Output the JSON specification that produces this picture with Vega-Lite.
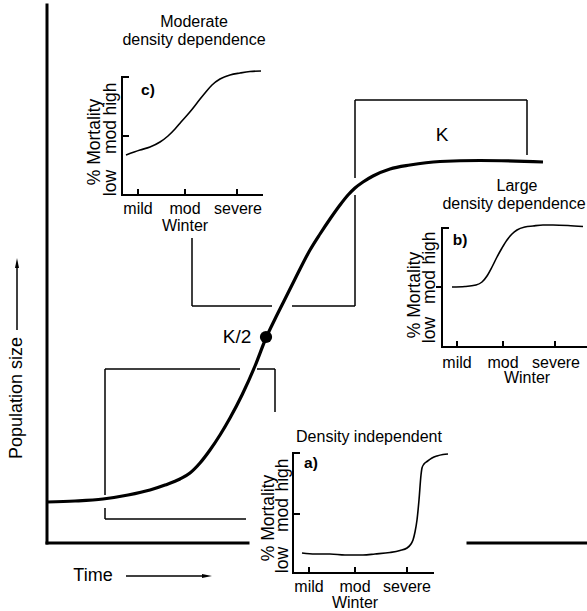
{
  "$schema": "https://vega.github.io/schema/vega-lite/v6.json",
  "width": 587,
  "height": 611,
  "padding": 0,
  "autosize": {"type": "none"},
  "background": "white",
  "config": {"view": {"stroke": null}, "text": {"font": "Liberation Sans", "color": "black"}},
  "datasets": {
    "main": [
      {"x": 47, "y": 502}, {"x": 75, "y": 501}, {"x": 103, "y": 499}, {"x": 128, "y": 495}, {"x": 150, "y": 490},
      {"x": 165, "y": 485}, {"x": 180, "y": 479}, {"x": 190, "y": 473}, {"x": 200, "y": 463}, {"x": 210, "y": 450},
      {"x": 220, "y": 435}, {"x": 230, "y": 418}, {"x": 242, "y": 395}, {"x": 255, "y": 366}, {"x": 266, "y": 338},
      {"x": 275, "y": 319}, {"x": 283, "y": 303}, {"x": 295, "y": 279}, {"x": 310, "y": 250}, {"x": 320, "y": 234},
      {"x": 330, "y": 219}, {"x": 340, "y": 205}, {"x": 348, "y": 195}, {"x": 355, "y": 188}, {"x": 363, "y": 182},
      {"x": 373, "y": 176}, {"x": 390, "y": 169}, {"x": 410, "y": 165}, {"x": 440, "y": 161.5}, {"x": 480, "y": 160.5},
      {"x": 543, "y": 162}
    ],
    "insets": [
      {"panel": "c", "x": 126, "y": 155}, {"panel": "c", "x": 140, "y": 150}, {"panel": "c", "x": 150, "y": 147},
      {"panel": "c", "x": 160, "y": 142}, {"panel": "c", "x": 168, "y": 136}, {"panel": "c", "x": 175, "y": 129},
      {"panel": "c", "x": 181, "y": 122}, {"panel": "c", "x": 189, "y": 113}, {"panel": "c", "x": 197, "y": 103},
      {"panel": "c", "x": 205, "y": 93}, {"panel": "c", "x": 212, "y": 85}, {"panel": "c", "x": 220, "y": 79},
      {"panel": "c", "x": 230, "y": 75}, {"panel": "c", "x": 240, "y": 73}, {"panel": "c", "x": 250, "y": 71.5},
      {"panel": "c", "x": 261, "y": 71},
      {"panel": "b", "x": 452, "y": 287}, {"panel": "b", "x": 465, "y": 286.5}, {"panel": "b", "x": 476, "y": 285},
      {"panel": "b", "x": 482, "y": 282}, {"panel": "b", "x": 487, "y": 276}, {"panel": "b", "x": 492, "y": 267},
      {"panel": "b", "x": 497, "y": 257}, {"panel": "b", "x": 502, "y": 248}, {"panel": "b", "x": 507, "y": 240},
      {"panel": "b", "x": 512, "y": 234}, {"panel": "b", "x": 517, "y": 230}, {"panel": "b", "x": 525, "y": 227},
      {"panel": "b", "x": 533, "y": 226}, {"panel": "b", "x": 543, "y": 225}, {"panel": "b", "x": 553, "y": 225},
      {"panel": "b", "x": 568, "y": 225.5}, {"panel": "b", "x": 583, "y": 226.5},
      {"panel": "a", "x": 302, "y": 553}, {"panel": "a", "x": 315, "y": 554}, {"panel": "a", "x": 330, "y": 554},
      {"panel": "a", "x": 345, "y": 555}, {"panel": "a", "x": 363, "y": 555}, {"panel": "a", "x": 375, "y": 554},
      {"panel": "a", "x": 390, "y": 552.5}, {"panel": "a", "x": 400, "y": 550.5}, {"panel": "a", "x": 407, "y": 548},
      {"panel": "a", "x": 411, "y": 544}, {"panel": "a", "x": 413, "y": 540}, {"panel": "a", "x": 415, "y": 532},
      {"panel": "a", "x": 417, "y": 520}, {"panel": "a", "x": 419, "y": 500}, {"panel": "a", "x": 421, "y": 475},
      {"panel": "a", "x": 422, "y": 468}, {"panel": "a", "x": 424, "y": 464}, {"panel": "a", "x": 427, "y": 461.5},
      {"panel": "a", "x": 432, "y": 458}, {"panel": "a", "x": 437, "y": 456}, {"panel": "a", "x": 443, "y": 454.5},
      {"panel": "a", "x": 448, "y": 454}
    ],
    "segs": [
      {"kind": "axis", "x": 47, "y": 5, "x2": 47, "y2": 543},
      {"kind": "axis", "x": 47, "y": 543, "x2": 248, "y2": 543},
      {"kind": "axis", "x": 468, "y": 543, "x2": 587, "y2": 543},
      {"kind": "bracket", "x": 105, "y": 369, "x2": 240, "y2": 369},
      {"kind": "bracket", "x": 257, "y": 369, "x2": 275, "y2": 369},
      {"kind": "bracket", "x": 275, "y": 369, "x2": 275, "y2": 412},
      {"kind": "bracket", "x": 105, "y": 369, "x2": 105, "y2": 495},
      {"kind": "bracket", "x": 105, "y": 508, "x2": 105, "y2": 519},
      {"kind": "bracket", "x": 105, "y": 519, "x2": 246, "y2": 519},
      {"kind": "bracket", "x": 192, "y": 238, "x2": 192, "y2": 306},
      {"kind": "bracket", "x": 192, "y": 306, "x2": 272, "y2": 306},
      {"kind": "bracket", "x": 292, "y": 306, "x2": 355, "y2": 306},
      {"kind": "bracket", "x": 355, "y": 306, "x2": 355, "y2": 195},
      {"kind": "bracket", "x": 355, "y": 178, "x2": 355, "y2": 100},
      {"kind": "bracket", "x": 355, "y": 100, "x2": 527, "y2": 100},
      {"kind": "bracket", "x": 527, "y": 100, "x2": 527, "y2": 155},
      {"kind": "inset", "x": 122, "y": 77, "x2": 122, "y2": 195},
      {"kind": "inset", "x": 122, "y": 195, "x2": 262, "y2": 195},
      {"kind": "inset", "x": 122, "y": 77, "x2": 128, "y2": 77},
      {"kind": "inset", "x": 122, "y": 136, "x2": 128, "y2": 136},
      {"kind": "inset", "x": 138, "y": 195, "x2": 138, "y2": 190},
      {"kind": "inset", "x": 185, "y": 195, "x2": 185, "y2": 190},
      {"kind": "inset", "x": 237, "y": 195, "x2": 237, "y2": 190},
      {"kind": "inset", "x": 442, "y": 228, "x2": 442, "y2": 347},
      {"kind": "inset", "x": 442, "y": 347, "x2": 587, "y2": 347},
      {"kind": "inset", "x": 442, "y": 228, "x2": 448, "y2": 228},
      {"kind": "inset", "x": 437, "y": 287, "x2": 442, "y2": 287},
      {"kind": "inset", "x": 457, "y": 347, "x2": 457, "y2": 342},
      {"kind": "inset", "x": 503, "y": 347, "x2": 503, "y2": 342},
      {"kind": "inset", "x": 555, "y": 347, "x2": 555, "y2": 342},
      {"kind": "inset", "x": 293, "y": 453, "x2": 293, "y2": 573},
      {"kind": "inset", "x": 293, "y": 573, "x2": 433, "y2": 573},
      {"kind": "inset", "x": 293, "y": 453, "x2": 299, "y2": 453},
      {"kind": "inset", "x": 293, "y": 514, "x2": 299, "y2": 514},
      {"kind": "inset", "x": 309, "y": 573, "x2": 309, "y2": 568},
      {"kind": "inset", "x": 355, "y": 573, "x2": 355, "y2": 568},
      {"kind": "inset", "x": 407, "y": 573, "x2": 407, "y2": 568},
      {"kind": "arrow", "x": 17, "y": 330, "x2": 17, "y2": 266},
      {"kind": "arrow", "x": 126, "y": 576, "x2": 204, "y2": 576}
    ],
    "heads": [
      {"dir": "up", "x": 17, "y": 263},
      {"dir": "right", "x": 207, "y": 576}
    ],
    "dot": [{"x": 266, "y": 337}],
    "labels": [
      {"style": "big", "text": "K", "x": 442, "y": 135},
      {"style": "big", "text": "K/2", "x": 237, "y": 337},
      {"style": "axis", "text": "Time", "x": 93, "y": 576},
      {"style": "axisv", "text": "Population size", "x": 17, "y": 398},
      {"style": "title", "text": "Moderate", "x": 194, "y": 22},
      {"style": "title", "text": "density dependence", "x": 194, "y": 40},
      {"style": "title", "text": "Large", "x": 517, "y": 186},
      {"style": "title", "text": "density dependence", "x": 514, "y": 204},
      {"style": "title", "text": "Density independent", "x": 369, "y": 437},
      {"style": "panel", "text": "c)", "x": 148, "y": 90},
      {"style": "panel", "text": "b)", "x": 460, "y": 240},
      {"style": "panel", "text": "a)", "x": 311, "y": 463},
      {"style": "tick", "text": "mild", "x": 138, "y": 209},
      {"style": "tick", "text": "mod", "x": 185, "y": 209},
      {"style": "tick", "text": "severe", "x": 238, "y": 209},
      {"style": "tick", "text": "Winter", "x": 185, "y": 226},
      {"style": "tick", "text": "mild", "x": 457, "y": 363},
      {"style": "tick", "text": "mod", "x": 503, "y": 363},
      {"style": "tick", "text": "severe", "x": 556, "y": 363},
      {"style": "tick", "text": "Winter", "x": 527, "y": 378},
      {"style": "tick", "text": "mild", "x": 309, "y": 587},
      {"style": "tick", "text": "mod", "x": 355, "y": 587},
      {"style": "tick", "text": "severe", "x": 407, "y": 587},
      {"style": "tick", "text": "Winter", "x": 355, "y": 603},
      {"style": "ylab", "text": "% Mortality", "x": 95, "y": 142},
      {"style": "ylab", "text": "low", "x": 111, "y": 183},
      {"style": "ylab", "text": "mod", "x": 111, "y": 137},
      {"style": "ylab", "text": "high", "x": 111, "y": 99},
      {"style": "ylab", "text": "% Mortality", "x": 415, "y": 295},
      {"style": "ylab", "text": "low", "x": 430, "y": 330},
      {"style": "ylab", "text": "mod", "x": 430, "y": 287},
      {"style": "ylab", "text": "high", "x": 430, "y": 248},
      {"style": "ylab", "text": "% Mortality", "x": 269, "y": 518},
      {"style": "ylab", "text": "low", "x": 283, "y": 560},
      {"style": "ylab", "text": "mod", "x": 283, "y": 515},
      {"style": "ylab", "text": "high", "x": 283, "y": 475}
    ]
  },
  "layer": [
    {
      "data": {"name": "segs"},
      "transform": [{"filter": "datum.kind === 'axis'"}],
      "mark": {"type": "rule", "strokeWidth": 3, "strokeCap": "square", "color": "black"},
      "encoding": {
        "x": {"field": "x", "type": "quantitative", "scale": {"domain": [0, 587], "nice": false, "zero": false}, "axis": null},
        "y": {"field": "y", "type": "quantitative", "scale": {"domain": [0, 611], "nice": false, "zero": false, "reverse": true}, "axis": null},
        "x2": {"field": "x2"},
        "y2": {"field": "y2"}
      }
    },
    {
      "data": {"name": "segs"},
      "transform": [{"filter": "datum.kind === 'bracket' || datum.kind === 'arrow'"}],
      "mark": {"type": "rule", "strokeWidth": 1.5, "color": "black"},
      "encoding": {
        "x": {"field": "x", "type": "quantitative"},
        "y": {"field": "y", "type": "quantitative"},
        "x2": {"field": "x2"},
        "y2": {"field": "y2"}
      }
    },
    {
      "data": {"name": "segs"},
      "transform": [{"filter": "datum.kind === 'inset'"}],
      "mark": {"type": "rule", "strokeWidth": 2, "strokeCap": "square", "color": "black"},
      "encoding": {
        "x": {"field": "x", "type": "quantitative"},
        "y": {"field": "y", "type": "quantitative"},
        "x2": {"field": "x2"},
        "y2": {"field": "y2"}
      }
    },
    {
      "data": {"name": "main"},
      "mark": {"type": "line", "strokeWidth": 3.2, "color": "black", "interpolate": "monotone"},
      "encoding": {
        "x": {"field": "x", "type": "quantitative"},
        "y": {"field": "y", "type": "quantitative"}
      }
    },
    {
      "data": {"name": "insets"},
      "mark": {"type": "line", "strokeWidth": 1.6, "color": "black", "interpolate": "monotone"},
      "encoding": {
        "x": {"field": "x", "type": "quantitative"},
        "y": {"field": "y", "type": "quantitative"},
        "detail": {"field": "panel"}
      }
    },
    {
      "data": {"name": "dot"},
      "mark": {"type": "point", "filled": true, "shape": "circle", "size": 150, "color": "black", "opacity": 1},
      "encoding": {
        "x": {"field": "x", "type": "quantitative"},
        "y": {"field": "y", "type": "quantitative"}
      }
    },
    {
      "data": {"name": "heads"},
      "transform": [{"filter": "datum.dir === 'up'"}],
      "mark": {"type": "point", "filled": true, "shape": "M-0.4,1L0,-1L0.4,1Z", "size": 100, "color": "black", "opacity": 1},
      "encoding": {
        "x": {"field": "x", "type": "quantitative"},
        "y": {"field": "y", "type": "quantitative"}
      }
    },
    {
      "data": {"name": "heads"},
      "transform": [{"filter": "datum.dir === 'right'"}],
      "mark": {"type": "point", "filled": true, "shape": "M-1,-0.4L1,0L-1,0.4Z", "size": 100, "color": "black", "opacity": 1},
      "encoding": {
        "x": {"field": "x", "type": "quantitative"},
        "y": {"field": "y", "type": "quantitative"}
      }
    },
    {
      "data": {"name": "labels"},
      "transform": [{"filter": "datum.style === 'big'"}],
      "mark": {"type": "text", "fontSize": 19, "align": "center", "baseline": "middle"},
      "encoding": {
        "x": {"field": "x", "type": "quantitative"},
        "y": {"field": "y", "type": "quantitative"},
        "text": {"field": "text"}
      }
    },
    {
      "data": {"name": "labels"},
      "transform": [{"filter": "datum.style === 'axis'"}],
      "mark": {"type": "text", "fontSize": 18, "align": "center", "baseline": "middle"},
      "encoding": {
        "x": {"field": "x", "type": "quantitative"},
        "y": {"field": "y", "type": "quantitative"},
        "text": {"field": "text"}
      }
    },
    {
      "data": {"name": "labels"},
      "transform": [{"filter": "datum.style === 'axisv'"}],
      "mark": {"type": "text", "fontSize": 18, "angle": 270, "align": "center", "baseline": "middle"},
      "encoding": {
        "x": {"field": "x", "type": "quantitative"},
        "y": {"field": "y", "type": "quantitative"},
        "text": {"field": "text"}
      }
    },
    {
      "data": {"name": "labels"},
      "transform": [{"filter": "datum.style === 'title'"}],
      "mark": {"type": "text", "fontSize": 16, "align": "center", "baseline": "middle"},
      "encoding": {
        "x": {"field": "x", "type": "quantitative"},
        "y": {"field": "y", "type": "quantitative"},
        "text": {"field": "text"}
      }
    },
    {
      "data": {"name": "labels"},
      "transform": [{"filter": "datum.style === 'panel'"}],
      "mark": {"type": "text", "fontSize": 15.5, "fontWeight": "bold", "align": "center", "baseline": "middle"},
      "encoding": {
        "x": {"field": "x", "type": "quantitative"},
        "y": {"field": "y", "type": "quantitative"},
        "text": {"field": "text"}
      }
    },
    {
      "data": {"name": "labels"},
      "transform": [{"filter": "datum.style === 'tick'"}],
      "mark": {"type": "text", "fontSize": 16, "align": "center", "baseline": "middle"},
      "encoding": {
        "x": {"field": "x", "type": "quantitative"},
        "y": {"field": "y", "type": "quantitative"},
        "text": {"field": "text"}
      }
    },
    {
      "data": {"name": "labels"},
      "transform": [{"filter": "datum.style === 'ylab'"}],
      "mark": {"type": "text", "fontSize": 17.5, "angle": 270, "align": "center", "baseline": "middle"},
      "encoding": {
        "x": {"field": "x", "type": "quantitative"},
        "y": {"field": "y", "type": "quantitative"},
        "text": {"field": "text"}
      }
    }
  ]
}
